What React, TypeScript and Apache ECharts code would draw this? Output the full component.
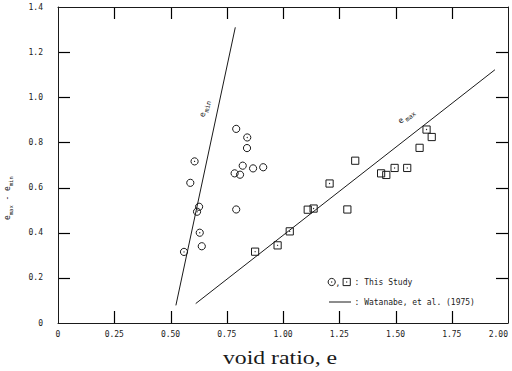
import React, { useEffect, useRef } from "react";
import * as echarts from "echarts";

// Axis ticks and their printed labels
const xTickValues = [0, 0.25, 0.5, 0.75, 1.0, 1.25, 1.5, 1.75, 2.0];
const xTickLabels = ["0", "0.25", "0.50", "0.75", "1.00", "1.25", "1.50", "1.75", "2.00"];
const yTickValues = [0, 0.2, 0.4, 0.6, 0.8, 1.0, 1.2, 1.4];
const yTickLabels = ["0", "0.2", "0.4", "0.6", "0.8", "1.0", "1.2", "1.4"];

// Measured points: e_min (circles) and e_max (squares) against e_max - e_min
const eMinPoints: [number, number][] = [
  [0.792, 0.86], [0.841, 0.822], [0.84, 0.775], [0.607, 0.716],
  [0.821, 0.697], [0.785, 0.663], [0.809, 0.657], [0.867, 0.685],
  [0.912, 0.69], [0.588, 0.621], [0.627, 0.515], [0.618, 0.493],
  [0.792, 0.503], [0.63, 0.4], [0.639, 0.34], [0.56, 0.315],
];
const eMaxPoints: [number, number][] = [
  [1.638, 0.857], [1.661, 0.824], [1.607, 0.776], [1.321, 0.719],
  [1.436, 0.663], [1.459, 0.656], [1.496, 0.687], [1.552, 0.687],
  [1.207, 0.618], [1.11, 0.502], [1.136, 0.507], [1.286, 0.503],
  [1.03, 0.406], [0.976, 0.344], [0.876, 0.316],
];

// Watanabe et al. (1975) relations
const eMinLine: [number, number][] = [[0.524, 0.078], [0.788, 1.31]];
const eMaxLine: [number, number][] = [[0.612, 0.086], [1.942, 1.122]];

const X_MIN = 0;
const X_MAX = 2;
const Y_MIN = 0;
const Y_MAX = 1.4;

const INK = "#1a1a1a";
const MONO = "DejaVu Sans Mono";
const R = 3.6;
const TICK = 12;

function labelFor(values: number[], labels: string[], v: number): string {
  const i = values.findIndex((t) => Math.abs(t - v) < 1e-6);
  return i >= 0 ? labels[i] : "";
}

const axisBase = {
  type: "value" as const,
  axisLine: { show: true, onZero: false, lineStyle: { color: INK, width: 1 } },
  axisTick: { show: false },
  splitLine: { show: false },
};

function monoText(x: number, y: number, text: string, size: number) {
  return {
    type: "text",
    x,
    y,
    style: { text, fontSize: size, fontFamily: MONO, fill: INK, align: "left", verticalAlign: "middle" },
  };
}

// e with a subscript, laid out along a rotated baseline
function subscripted(x: number, y: number, angle: number, sub: string, subSize: number, subDx: number, subDy: number) {
  return {
    type: "group",
    x,
    y,
    rotation: angle,
    children: [monoText(0, 0, "e", 8), monoText(subDx, subDy, sub, subSize)],
  };
}

// crisp tick segment
const crisp = (v: number) => Math.round(v) + 0.5;
function seg(x1: number, y1: number, x2: number, y2: number) {
  return { type: "line", shape: { x1, y1, x2, y2 }, style: { stroke: "#000000", lineWidth: 1.2 } };
}

export default function App() {
  const ref = useRef<HTMLDivElement>(null);

  useEffect(() => {
    document.body.style.margin = "0";
    if (!ref.current) return;
    const chart = echarts.init(ref.current, null, { renderer: "svg" });

    const circleItem = (params: any, api: any) => {
      const p = api.coord([api.value(0), api.value(1)]);
      return {
        type: "group",
        children: [
          { type: "circle", shape: { cx: p[0], cy: p[1], r: R }, style: { fill: "none", stroke: INK, lineWidth: 1 } },
          { type: "circle", shape: { cx: p[0], cy: p[1], r: 0.6 }, style: { fill: INK } },
        ],
      };
    };
    const squareItem = (params: any, api: any) => {
      const p = api.coord([api.value(0), api.value(1)]);
      return {
        type: "group",
        children: [
          { type: "rect", shape: { x: p[0] - R, y: p[1] - R, width: 2 * R, height: 2 * R }, style: { fill: "none", stroke: INK, lineWidth: 1 } },
          { type: "circle", shape: { cx: p[0], cy: p[1], r: 0.6 }, style: { fill: INK } },
        ],
      };
    };

    const legendY1 = 282;
    const legendY2 = 302;

    const baseGraphic: any[] = [
      // y-axis title: e_max - e_min, reading upward
      {
        type: "group",
        x: 7,
        y: 220,
        rotation: Math.PI / 2,
        children: [
          monoText(0, 0, "e", 8),
          monoText(4.8, 3.5, "max", 5.5),
          monoText(14.7, 0, " - ", 8),
          monoText(29, 0, "e", 8),
          monoText(33.8, 3.5, "min", 5.5),
        ],
      },
      // line labels
      subscripted(202, 117, (78 * Math.PI) / 180, "min", 6.5, 5.5, 3.5),
      subscripted(399, 122, (38 * Math.PI) / 180, "max", 6.5, 6.5, 3),
      // x-axis title
      {
        type: "text",
        x: 280,
        y: 358,
        scaleX: 1.25,
        style: {
          text: "void ratio, e",
          fontSize: 19,
          fontFamily: "Liberation Serif",
          fill: INK,
          align: "center",
          verticalAlign: "middle",
        },
      },
      // key
      { type: "circle", shape: { cx: 331.7, cy: legendY1, r: R }, style: { fill: "none", stroke: INK, lineWidth: 1 } },
      { type: "circle", shape: { cx: 331.7, cy: legendY1, r: 0.6 }, style: { fill: INK } },
      monoText(335.5, legendY1 + 1, ",", 8),
      { type: "rect", shape: { x: 346.7 - R, y: legendY1 - R, width: 2 * R, height: 2 * R }, style: { fill: "none", stroke: INK, lineWidth: 1 } },
      { type: "circle", shape: { cx: 346.7, cy: legendY1, r: 0.6 }, style: { fill: INK } },
      monoText(354.5, legendY1, ": This Study", 8),
      { type: "line", shape: { x1: 329, y1: legendY2, x2: 351, y2: legendY2 }, style: { stroke: INK, lineWidth: 1 } },
      monoText(354.5, legendY2, ": Watanabe, et al. (1975)", 8),
    ];

    chart.setOption({
      animation: false,
      backgroundColor: "#ffffff",
      grid: { left: 58, right: 4, top: 7, bottom: 48, outerBoundsMode: "none", containLabel: false },
      xAxis: [
        {
          ...axisBase,
          position: "bottom",
          min: X_MIN,
          max: X_MAX,
          interval: 0.25,
          axisLabel: {
            margin: 7,
            fontSize: 8,
            fontFamily: MONO,
            color: INK,
            alignMaxLabel: "right",
            formatter: (v: number) => labelFor(xTickValues, xTickLabels, v),
          },
        },
        { ...axisBase, position: "top", min: X_MIN, max: X_MAX, interval: 0.25, axisLabel: { show: false } },
      ],
      yAxis: [
        {
          ...axisBase,
          position: "left",
          min: Y_MIN,
          max: Y_MAX,
          interval: 0.2,
          axisLabel: {
            margin: 15,
            fontSize: 8,
            fontFamily: MONO,
            color: INK,
            formatter: (v: number) => labelFor(yTickValues, yTickLabels, v),
          },
        },
        { ...axisBase, position: "right", min: Y_MIN, max: Y_MAX, interval: 0.2, axisLabel: { show: false } },
      ],
      series: [
        { type: "line", data: eMinLine, symbol: "none", lineStyle: { color: INK, width: 1 }, silent: true },
        { type: "line", data: eMaxLine, symbol: "none", lineStyle: { color: INK, width: 1 }, silent: true },
        { type: "custom", data: eMinPoints, renderItem: circleItem, encode: { x: 0, y: 1 } },
        { type: "custom", data: eMaxPoints, renderItem: squareItem, encode: { x: 0, y: 1 } },
      ],
      graphic: baseGraphic,
    });

    // Inward tick marks on all four sides, placed through the axes' own scales
    const px = (x: number, y: number) => chart.convertToPixel({ gridIndex: 0 }, [x, y]) as number[];
    const ticks: any[] = [];
    xTickValues
      .filter((v) => v > X_MIN && v < X_MAX)
      .forEach((v) => {
        const b = px(v, Y_MIN);
        const t = px(v, Y_MAX);
        const x = crisp(b[0]);
        ticks.push(seg(x, b[1], x, b[1] - TICK));
        ticks.push(seg(x, t[1], x, t[1] + TICK));
      });
    yTickValues
      .filter((v) => v > Y_MIN && v < Y_MAX)
      .forEach((v) => {
        const l = px(X_MIN, v);
        const r = px(X_MAX, v);
        const y = crisp(l[1]);
        ticks.push(seg(l[0], y, l[0] + TICK, y));
        ticks.push(seg(r[0], y, r[0] - TICK, y));
      });
    chart.setOption({ graphic: [...baseGraphic, ...ticks] });

    return () => chart.dispose();
  }, []);

  return <div ref={ref} style={{ width: 512, height: 371 }} />;
}
